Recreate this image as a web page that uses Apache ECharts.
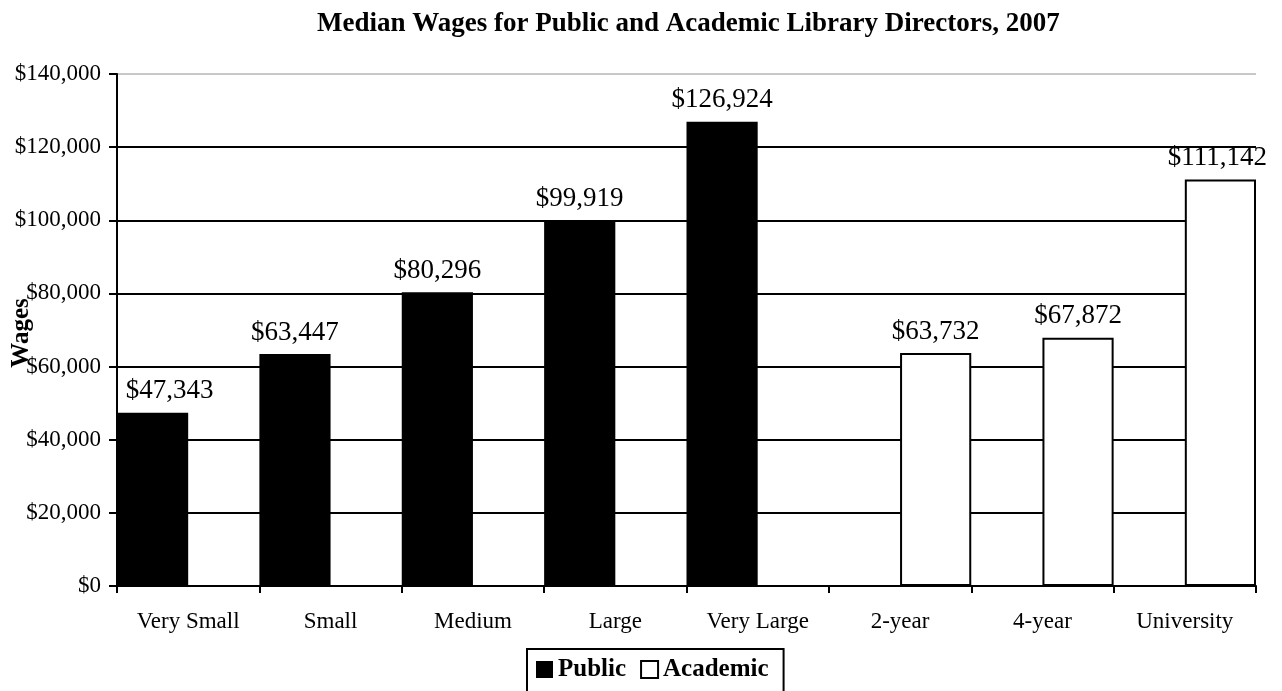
<!DOCTYPE html>
<html>
<head>
<meta charset="utf-8">
<script src="https://cdn.jsdelivr.net/npm/echarts@6/dist/echarts.min.js"></script>
<style>html,body{margin:0;padding:0;background:#fff;}#c{width:1282px;height:691px;}</style>
</head>
<body>
<div id="c"></div>
<script>
const titleText = 'Median Wages for Public and Academic Library Directors, 2007';
const categories = ['Very Small', 'Small', 'Medium', 'Large', 'Very Large', '2-year', '4-year', 'University'];
const publicValues = [47343, 63447, 80296, 99919, 126924, null, null, null];
const academicValues = [null, null, null, null, null, 63732, 67872, 111142];
const seriesNames = ['Public', 'Academic'];
const yAxisName = 'Wages';

const FONT = '"Liberation Serif", "Times New Roman", serif';
const money = v => '$' + Number(v).toLocaleString('en-US');

// first bar's label sits shifted inward from the axis, as in the original
const publicData = publicValues.map((v, i) => i === 0 ? { value: v, label: { offset: [17, 0] } } : v);
const academicData = academicValues.map((v, i) => i === academicValues.length - 1 ? { value: v, label: { offset: [-3, 0] } } : v);

const chart = echarts.init(document.getElementById('c'));
chart.setOption({
  animation: false,
  backgroundColor: '#fff',
  title: {
    text: titleText,
    left: 312,
    top: 6,
    textStyle: { fontFamily: FONT, fontWeight: 'bold', fontSize: 27, color: '#000' }
  },
  grid: { left: 117, right: 26, top: 74, bottom: 105, containLabel: false, outerBoundsMode: 'none' },
  legend: {
    data: seriesNames,
    left: 527,
    top: 649,
    orient: 'horizontal',
    borderColor: '#000',
    borderWidth: 2,
    padding: [8, 15, 20, 9],
    itemWidth: 17,
    itemHeight: 17,
    itemGap: 14,
    icon: 'rect',
    textStyle: { fontFamily: FONT, fontWeight: 'bold', fontSize: 25, color: '#000' }
  },
  xAxis: {
    type: 'category',
    data: categories,
    axisLine: { show: true, lineStyle: { color: '#000', width: 2 } },
    axisTick: { show: true, length: 7, lineStyle: { color: '#000', width: 2 } },
    axisLabel: { color: '#000', fontFamily: FONT, fontSize: 23, margin: 24 },
    splitLine: { show: false }
  },
  yAxis: {
    type: 'value',
    min: 0,
    max: 140000,
    interval: 20000,
    name: yAxisName,
    nameLocation: 'middle',
    nameGap: 83,
    nameMoveOverlap: false,
    nameTextStyle: { fontFamily: FONT, fontWeight: 'bold', fontSize: 25, color: '#000', padding: [0, 6, 0, 0] },
    axisLine: { show: true, lineStyle: { color: '#000', width: 2 } },
    axisTick: { show: true, length: 8, inside: false, lineStyle: { color: '#000', width: 2 } },
    axisLabel: { color: '#000', fontFamily: FONT, fontSize: 23, margin: 16, formatter: money },
    splitLine: {
      show: true,
      lineStyle: { color: ['#000', '#000', '#000', '#000', '#000', '#000', '#000', '#c8c8c8'], width: 2 }
    }
  },
  series: [
    {
      name: seriesNames[0],
      type: 'bar',
      data: publicData,
      barGap: '0%',
      barCategoryGap: '0%',
      itemStyle: { color: '#000', borderColor: '#000', borderWidth: 0 },
      label: { show: true, position: 'top', distance: 8, formatter: p => money(p.value), fontFamily: FONT, fontSize: 27, color: '#000' }
    },
    {
      name: seriesNames[1],
      type: 'bar',
      data: academicData,
      barGap: '0%',
      barCategoryGap: '0%',
      itemStyle: { color: '#fff', borderColor: '#000', borderWidth: 2 },
      label: { show: true, position: 'top', distance: 8, formatter: p => money(p.value), fontFamily: FONT, fontSize: 27, color: '#000' }
    }
  ]
});
</script>
</body>
</html>
